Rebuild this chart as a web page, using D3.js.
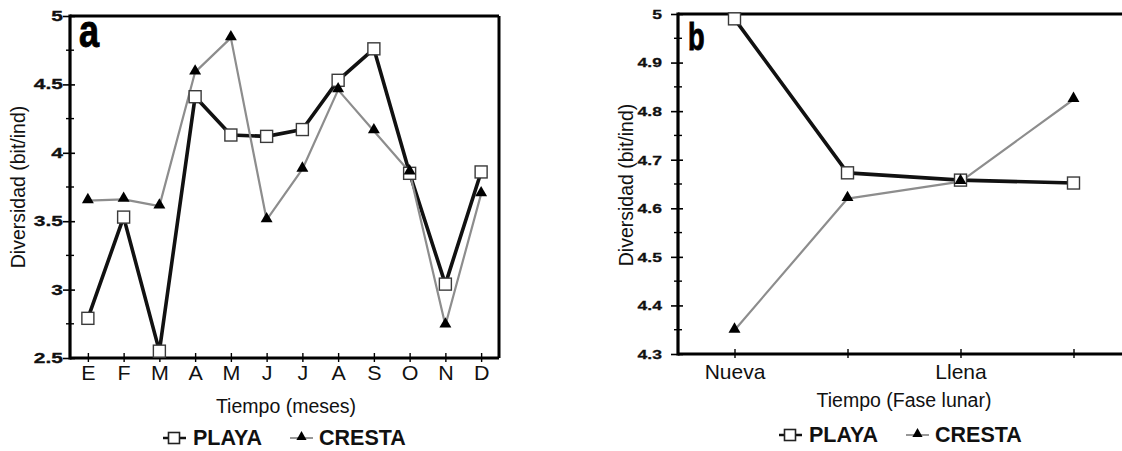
<!DOCTYPE html>
<html>
<head>
<meta charset="utf-8">
<script src="https://cdn.jsdelivr.net/npm/d3@7"></script>
<style>
  html, body { margin: 0; padding: 0; background: #ffffff; }
  svg { display: block; font-family: "Liberation Sans", Arial, sans-serif; }
</style>
</head>
<body>
<svg id="chart" width="1122" height="451"></svg>
<script>
// Diversity (bit/ind) for two sites: monthly (a) and by lunar phase (b)
const months = ["E", "F", "M", "A", "M", "J", "J", "A", "S", "O", "N", "D"];
const playaMonthly  = [2.79, 3.53, 2.55, 4.41, 4.13, 4.12, 4.17, 4.53, 4.76, 3.85, 3.04, 3.86];
const crestaMonthly = [3.65, 3.66, 3.61, 4.59, 4.84, 3.51, 3.88, 4.46, 4.16, 3.86, 2.74, 3.70];
const monthTicks  = [2.5, 3, 3.5, 4, 4.5, 5];
const monthTickLabels = ["2.5", "3", "3.5", "4", "4.5", "5"];

const phases = ["Nueva", "", "Llena", ""];
const playaLunar  = [4.99, 4.673, 4.658, 4.652];
const crestaLunar = [4.349, 4.62, 4.655, 4.824];
const lunarTicks  = [4.3, 4.4, 4.5, 4.6, 4.7, 4.8, 4.9, 5];
const lunarTickLabels = ["4.3", "4.4", "4.5", "4.6", "4.7", "4.8", "4.9", "5"];

const seriesNames = ["PLAYA", "CRESTA"];

const svg = d3.select("#chart");

function drawPanel(cfg) {
  const g = svg.append("g");
  const idx = d3.range(cfg.categories.length);
  const x = d3.scalePoint().domain(idx).range([cfg.left, cfg.right]).padding(0.5);
  const y = d3.scaleLinear().domain(cfg.yDomain).range([cfg.bottom, cfg.top]);

  // frame: top border (and right border when it fits)
  g.append("line").attr("x1", cfg.left).attr("x2", cfg.right)
    .attr("y1", cfg.top).attr("y2", cfg.top)
    .attr("stroke", "#000").attr("stroke-width", 3);
  if (cfg.rightBorder) {
    g.append("line").attr("x1", cfg.right).attr("x2", cfg.right)
      .attr("y1", cfg.top).attr("y2", cfg.bottom)
      .attr("stroke", "#000").attr("stroke-width", 3);
  }

  // y axis: major ticks crossing the axis, minor ticks between them
  const yAxis = g.append("g").attr("transform", `translate(${cfg.left},0)`)
    .call(d3.axisLeft(y).tickValues(cfg.ticks).tickSize(7).tickPadding(3)
      .tickFormat((d, i) => cfg.tickLabels[i]));
  yAxis.select(".domain").remove();
  yAxis.selectAll(".tick line").attr("x2", 5).attr("x1", -7).attr("stroke-width", 1.6);
  yAxis.selectAll(".tick text").remove();
  const minors = d3.pairs(cfg.ticks).map(p => (p[0] + p[1]) / 2);
  yAxis.selectAll(".minor").data(minors).join("line").attr("class", "minor")
    .attr("x1", -4).attr("x2", 4).attr("y1", d => y(d)).attr("y2", d => y(d))
    .attr("stroke", "#000").attr("stroke-width", 1.4);
  // wide bold tick numbers
  yAxis.selectAll(".ylab").data(cfg.ticks).join("text").attr("class", "ylab")
    .attr("transform", d => `translate(${cfg.labelRight - cfg.left},${y(d)}) scale(${cfg.labelStretch},1)`)
    .attr("text-anchor", "end").attr("dy", "0.36em")
    .attr("font-size", cfg.labelSize).attr("font-weight", "bold").attr("fill", "#111")
    .attr("stroke", "#111").attr("stroke-width", 0.3)
    .text((d, i) => cfg.tickLabels[i]);
  g.append("line").attr("x1", cfg.left).attr("x2", cfg.left)
    .attr("y1", cfg.top - 1.5).attr("y2", cfg.bottom + 1.5)
    .attr("stroke", "#000").attr("stroke-width", 3.2);

  // x axis
  const xAxis = g.append("g").attr("transform", `translate(0,${cfg.bottom})`)
    .call(d3.axisBottom(x).tickSize(4).tickPadding(cfg.catPadding)
      .tickFormat(i => cfg.categories[i]));
  xAxis.select(".domain").remove();
  xAxis.selectAll(".tick line").attr("y1", -5).attr("y2", 4).attr("stroke-width", 1.4);
  xAxis.selectAll(".tick text").attr("font-size", cfg.catSize).attr("fill", "#111")
    .attr("transform", `scale(${cfg.catStretch},1)`);
  g.append("line").attr("x1", cfg.left).attr("x2", cfg.right)
    .attr("y1", cfg.bottom).attr("y2", cfg.bottom)
    .attr("stroke", "#000").attr("stroke-width", 3.2);

  // series lines
  const line = d3.line().x((d, i) => x(i)).y(d => y(d));
  g.append("path").datum(cfg.playa).attr("d", line)
    .attr("fill", "none").attr("stroke", "#111").attr("stroke-width", 3.6)
    .attr("stroke-linejoin", "round");
  g.append("path").datum(cfg.cresta).attr("d", line)
    .attr("fill", "none").attr("stroke", "#8d8d8d").attr("stroke-width", 2.2)
    .attr("stroke-linejoin", "round");

  // markers
  const sq = 12;
  g.selectAll(".sq").data(cfg.playa).join("rect").attr("class", "sq")
    .attr("x", (d, i) => x(i) - sq / 2).attr("y", d => y(d) - sq / 2)
    .attr("width", sq).attr("height", sq)
    .attr("fill", "#fff").attr("stroke", "#3a3a3a").attr("stroke-width", 1.4);
  const tri = d3.symbol().type(d3.symbolTriangle).size(62);
  g.selectAll(".tri").data(cfg.cresta).join("path").attr("class", "tri")
    .attr("d", tri).attr("transform", (d, i) => `translate(${x(i)},${y(d) - 1})`)
    .attr("fill", "#000");

  // panel letter
  g.append("text")
    .attr("transform", `translate(${cfg.letterX},${cfg.letterY}) scale(${cfg.letterSx},1.2)`)
    .attr("font-family", "'Liberation Sans Narrow', 'Liberation Sans', sans-serif")
    .attr("font-weight", "bold").attr("font-size", cfg.letterSize).attr("fill", "#000")
    .attr("stroke", "#000").attr("stroke-width", 0.8)
    .text(cfg.letter);

  // axis titles
  g.append("text")
    .attr("transform", `translate(${cfg.yTitleX},${cfg.yTitleY}) rotate(-90)`)
    .attr("text-anchor", "middle").attr("font-size", 19.5).attr("fill", "#111")
    .text("Diversidad (bit/ind)");
  g.append("text").attr("x", cfg.xTitleX).attr("y", cfg.xTitleY)
    .attr("text-anchor", "middle").attr("font-size", 19.5).attr("fill", "#111")
    .text(cfg.xTitle);

  // legend
  const lg = g.append("g").attr("transform", `translate(${cfg.legendX},${cfg.legendY})`);
  lg.append("line").attr("x1", 0).attr("x2", 23).attr("y1", -7).attr("y2", -7)
    .attr("stroke", "#111").attr("stroke-width", 2.5);
  lg.append("rect").attr("x", 5.5).attr("y", -12.5).attr("width", 11).attr("height", 11)
    .attr("fill", "#fff").attr("stroke", "#222").attr("stroke-width", 1.6);
  lg.append("text").attr("x", 30).attr("y", 0).attr("font-size", 21.5)
    .attr("font-weight", "bold").attr("fill", "#111").text(seriesNames[0]);
  lg.append("line").attr("x1", cfg.legendGap).attr("x2", cfg.legendGap + 23)
    .attr("y1", -7).attr("y2", -7).attr("stroke", "#8d8d8d").attr("stroke-width", 1.8);
  lg.append("path").attr("d", d3.symbol().type(d3.symbolTriangle).size(45))
    .attr("transform", `translate(${cfg.legendGap + 11.5},-8)`).attr("fill", "#000");
  lg.append("text").attr("x", cfg.legendGap + 29).attr("y", 0).attr("font-size", 21.5)
    .attr("font-weight", "bold").attr("fill", "#111").text(seriesNames[1]);
}

drawPanel({
  categories: months, playa: playaMonthly, cresta: crestaMonthly,
  ticks: monthTicks, tickLabels: monthTickLabels, yDomain: [2.5, 5],
  left: 70, right: 499, top: 16, bottom: 358, rightBorder: true,
  labelRight: 63, labelSize: 14, labelStretch: 1.5,
  catSize: 19.5, catStretch: 1.1, catPadding: 4,
  letter: "a", letterX: 79, letterY: 47, letterSize: 38, letterSx: 0.95,
  yTitleX: 25, yTitleY: 187, xTitle: "Tiempo (meses)", xTitleX: 286, xTitleY: 413,
  legendX: 163, legendY: 445, legendGap: 127
});

drawPanel({
  categories: phases, playa: playaLunar, cresta: crestaLunar,
  ticks: lunarTicks, tickLabels: lunarTickLabels, yDomain: [4.3, 5],
  left: 678, right: 1130, top: 14, bottom: 354, rightBorder: false,
  labelRight: 662, labelSize: 13.5, labelStretch: 1.3,
  catSize: 21, catStretch: 1.0, catPadding: 6,
  letter: "b", letterX: 688, letterY: 50, letterSize: 32, letterSx: 0.85,
  yTitleX: 633, yTitleY: 185, xTitle: "Tiempo (Fase lunar)", xTitleX: 904, xTitleY: 407,
  legendX: 779, legendY: 442, legendGap: 127
});
</script>
</body>
</html>
